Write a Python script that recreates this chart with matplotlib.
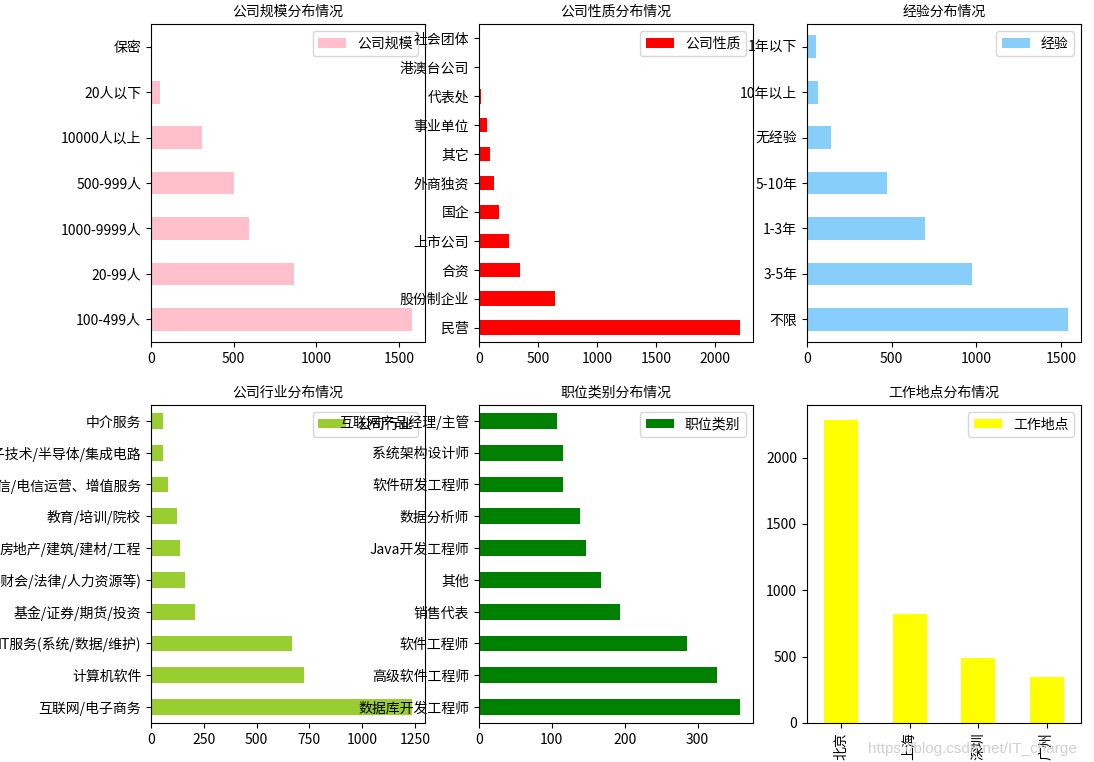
import matplotlib
matplotlib.use("Agg")
import matplotlib.pyplot as plt
import numpy as np

plt.rcParams['font.family'] = ['Noto Sans CJK SC', 'DejaVu Sans']
plt.rcParams['axes.unicode_minus'] = False
plt.rcParams['font.size'] = 10

# 公司规模
size_labels = ['100-499人', '20-99人', '1000-9999人', '500-999人', '10000人以上', '20人以下', '保密']
size_values = [1578, 863, 591, 500, 307, 53, 1]

# 公司性质
nature_labels = ['民营', '股份制企业', '合资', '上市公司', '国企', '外商独资', '其它', '事业单位', '代表处', '港澳台公司', '社会团体']
nature_values = [2209, 641, 345, 252, 167, 124, 90, 65, 14, 1, 1]

# 经验
exp_labels = ['不限', '3-5年', '1-3年', '5-10年', '无经验', '10年以上', '1年以下']
exp_values = [1540, 977, 695, 471, 140, 63, 51]

# 公司行业
ind_labels = ['互联网/电子商务', '计算机软件', 'IT服务(系统/数据/维护)', '基金/证券/期货/投资',
              '专业服务(咨询/财会/法律/人力资源等)', '房地产/建筑/建材/工程', '教育/培训/院校',
              '通信/电信运营、增值服务', '电子技术/半导体/集成电路', '中介服务']
ind_values = [1236, 724, 667, 207, 160, 136, 122, 79, 56, 55]

# 职位类别
job_labels = ['数据库开发工程师', '高级软件工程师', '软件工程师', '销售代表', '其他', 'Java开发工程师',
              '数据分析师', '软件研发工程师', '系统架构设计师', '互联网产品经理/主管']
job_values = [358, 326, 285, 193, 167, 147, 138, 116, 116, 107]

# 工作地点
loc_labels = ['北京', '上海', '深圳', '广州']
loc_values = [2283, 821, 490, 347]

fig, axes = plt.subplots(2, 3, figsize=(10.94, 7.62), dpi=100)
fig.subplots_adjust(left=0.138, right=0.988, bottom=0.0512, top=0.9685, wspace=0.197, hspace=0.198)


def hbar(ax, labels, values, color, name, title):
    pos = np.arange(len(labels))
    ax.barh(pos, values, height=0.5, color=color, label=name)
    ax.set_yticks(pos)
    ax.set_yticklabels(labels)
    ax.set_ylim(-0.5, len(labels) - 0.5)
    ax.set_title(title, fontsize=10)
    ax.legend(loc='upper right')


hbar(axes[0, 0], size_labels, size_values, 'pink', '公司规模', '公司规模分布情况')
hbar(axes[0, 1], nature_labels, nature_values, 'red', '公司性质', '公司性质分布情况')
hbar(axes[0, 2], exp_labels, exp_values, 'lightskyblue', '经验', '经验分布情况')
hbar(axes[1, 0], ind_labels, ind_values, 'yellowgreen', '公司行业', '公司行业分布情况')
hbar(axes[1, 1], job_labels, job_values, 'green', '职位类别', '职位类别分布情况')
axes[1, 0].set_xticks([0, 250, 500, 750, 1000, 1250])

ax = axes[1, 2]
pos = np.arange(len(loc_labels))
ax.bar(pos, loc_values, width=0.5, color='yellow', label='工作地点')
ax.set_xticks(pos)
ax.set_xticklabels(loc_labels, rotation=90)
ax.set_xlim(-0.5, len(loc_labels) - 0.5)
ax.set_title('工作地点分布情况', fontsize=10)
ax.legend(loc='upper right')

fig.text(0.793, 0.012, 'https://blog.csdn.net/IT_charge', fontsize=11, color='#c8c8c8',
         family=['Liberation Sans', 'DejaVu Sans'], alpha=0.85)

fig.savefig('out.png', dpi=100)
